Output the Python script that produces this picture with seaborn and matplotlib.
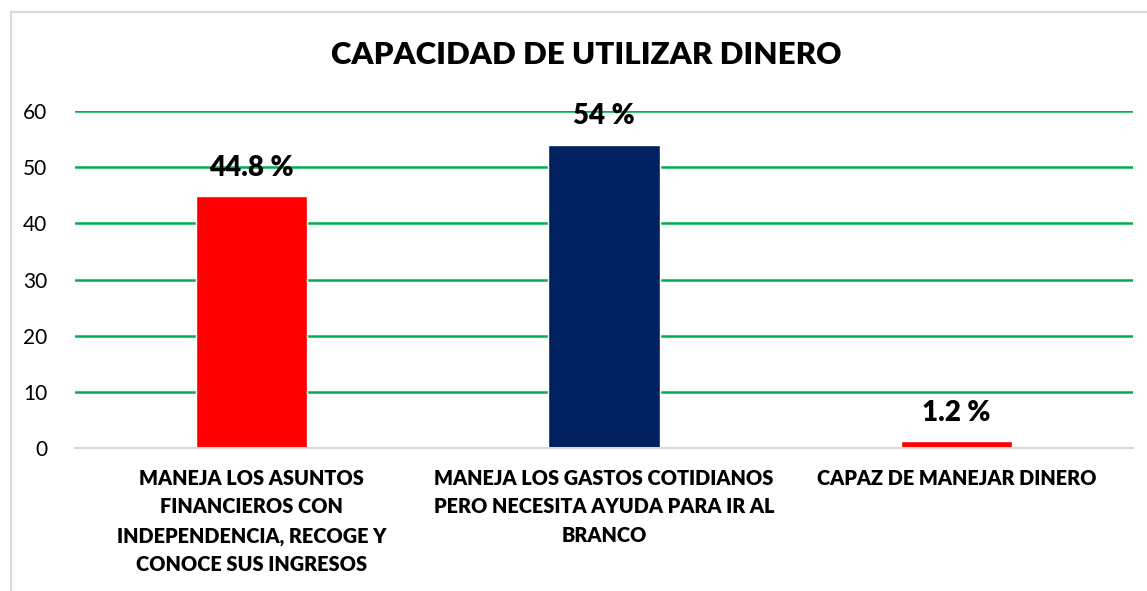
import pandas as pd
import numpy as np
import matplotlib
matplotlib.use("Agg")
import matplotlib.pyplot as plt
import seaborn as sns
from matplotlib.patches import Rectangle

# data
categories = [
    "MANEJA LOS ASUNTOS\nFINANCIEROS CON\nINDEPENDENCIA, RECOGE Y\nCONOCE SUS INGRESOS",
    "MANEJA LOS GASTOS COTIDIANOS\nPERO NECESITA AYUDA PARA IR AL\nBRANCO",
    "CAPAZ DE MANEJAR DINERO",
]
values = [44.8, 54, 1.2]
value_labels = ["44.8 %", "54 %", "1.2 %"]
bar_colors = ["#FF0000", "#002060", "#FF0000"]
y_ticks = [0, 10, 20, 30, 40, 50, 60]

df = pd.DataFrame({"categoria": categories, "valor": values})

sns.set_style("white")
plt.rcParams["font.family"] = ["Lato", "DejaVu Sans"]
plt.rcParams["text.color"] = "black"
plt.rcParams["xtick.color"] = "black"
plt.rcParams["ytick.color"] = "black"

fig = plt.figure(figsize=(11.47, 5.91), dpi=100)
ax = fig.add_axes([75 / 1147, 1 - 448 / 591, (1133 - 75) / 1147, (448 - 111) / 591])

sns.barplot(data=df, x="categoria", y="valor", hue="categoria",
            palette=bar_colors, legend=False, width=0.315, saturation=1, ax=ax)

ax.set_ylim(0, 60)
ax.set_xlim(-0.5, 2.5)
ax.set_yticks(y_ticks)
ax.yaxis.grid(True, color="#00B050", linewidth=1.8)
ax.set_axisbelow(True)
for side in ["top", "right", "left"]:
    ax.spines[side].set_visible(False)
ax.spines["bottom"].set_color("#D9D9D9")
ax.spines["bottom"].set_linewidth(1.5)
ax.tick_params(axis="both", length=0)
ax.tick_params(axis="y", labelsize=15, pad=20)
ax.tick_params(axis="x", pad=15)
ax.set_xlabel("")
ax.set_ylabel("")
for lbl in ax.get_xticklabels():
    lbl.set_fontweight("heavy")
    lbl.set_fontsize(14.3)
    lbl.set_linespacing(1.6)
    lbl.set_verticalalignment("top")

for i, (v, t) in enumerate(zip(values, value_labels)):
    ax.text(i, v + 2.8, t, ha="center", va="bottom", fontsize=20, fontweight="heavy")

fig.text(586 / 1147, 1 - 55 / 591, "CAPACIDAD DE UTILIZAR DINERO", ha="center", va="center",
         fontsize=22.5, fontweight="heavy")

# light frame around the chart area
fig.patches.append(Rectangle((11 / 1147, -0.2), 1.5, 1.2 - 12 / 591,
                             transform=fig.transFigure, fill=False,
                             edgecolor="#D9D9D9", linewidth=1.5))

fig.savefig("out.png", dpi=100)
